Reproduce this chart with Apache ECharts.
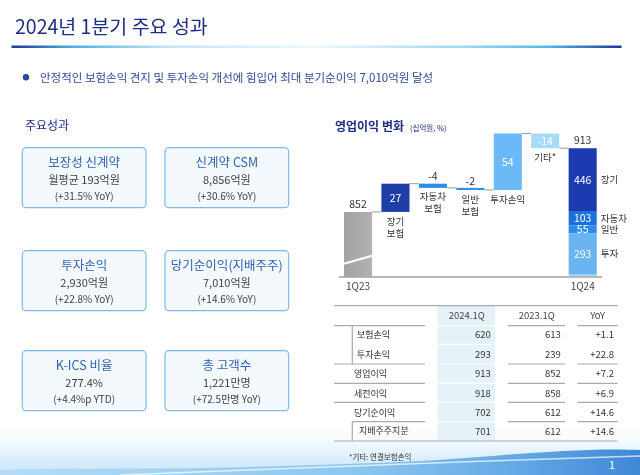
<!DOCTYPE html>
<html><head><meta charset="utf-8">
<script src="https://cdn.jsdelivr.net/npm/echarts/dist/echarts.min.js"></script>
<style>html,body{margin:0;padding:0;background:#fff}#c{width:640px;height:475px}</style>
</head><body><div id="c"></div>
<script>
// ---------- data ----------
const pageTitle = '2024년 1분기 주요 성과';
const headline = '안정적인 보험손익 견지 및 투자손익 개선에 힘입어 최대 분기순이익 7,010억원 달성';
const sectionTitle = '주요성과';
const kpiTitles = ['보장성 신계약', '신계약 CSM', '투자손익', '당기순이익(지배주주)', 'K-ICS 비율', '총 고객수'];
const kpiValues = ['월평균 193억원', '8,856억원', '2,930억원', '7,010억원', '277.4%', '1,221만명'];
const kpiChanges = ['(+31.5% YoY)', '(+30.6% YoY)', '(+22.8% YoY)', '(+14.6% YoY)', '(+4.4%p YTD)', '(+72.5만명 YoY)'];

const chartTitle = '영업이익 변화';
const chartUnit = '(십억원, %)';
const wfCategories = ['1Q23', '장기보험', '자동차보험', '일반보험', '투자손익', '기타*', '1Q24'];
const wfStepLabels = ['', '장기\n보험', '자동차\n보험', '일반\n보험', '투자손익', '기타*', ''];
const wfStart = 852;
const wfDeltas = [27, -4, -2, 54, -14];
const wfEnd = 913;
const endParts = [16, 293, 55, 103, 446];          // bottom -> top
const endPartNames = ['', '투자', '일반', '자동차', '장기'];

const tableHeader = ['2024.1Q', '2023.1Q', 'YoY'];
const tableRowNames = ['보험손익', '투자손익', '영업이익', '세전이익', '당기순이익', '지배주주지분'];
const tableRowIndent = [true, true, false, false, false, true];
const val2024 = ['620', '293', '913', '918', '702', '701'];
const val2023 = ['613', '239', '852', '858', '612', '612'];
const yoyValues = ['+1.1', '+22.8', '+7.2', '+6.9', '+14.6', '+14.6'];
const footnote = '*기타: 연결보험손익';
const pageNo = '1';

// ---------- styles ----------
const FONT = '"Noto Sans CJK KR", "Noto Sans", sans-serif';
const NAVY = '#1D2F82';
const deltaColors = ['#1F3DA6', '#2B8DEB', '#2B8DEB', '#6CB9F7', '#A7DAFB'];
const endColors = ['#9CCFF3', '#6AB5F0', '#2C8EEA', '#1C72DA', '#1C3BB0'];
const Y_MIN = 790, Y_MAX = 930;

// ---------- waterfall derived series ----------
const levels = [wfStart];
wfDeltas.forEach(d => levels.push(levels[levels.length - 1] + d));
const nCat = wfCategories.length;
const last = nCat - 1;
const startData = wfCategories.map((c, i) => i === 0 ? wfStart : '-');
const baseData = ['-'], deltaData = ['-'];
wfDeltas.forEach((d, i) => {
  const a = levels[i], b = levels[i + 1];
  baseData.push(Math.min(a, b));
  const small = Math.abs(d) < 10;
  deltaData.push({
    value: Math.abs(d),
    itemStyle: { color: deltaColors[i] },
    label: {
      show: true,
      position: small ? 'top' : 'inside',
      distance: 2,
      color: small ? '#333' : '#fff',
      formatter: () => String(d)
    }
  });
});
baseData.push('-'); deltaData.push('-');
const y2Max = wfEnd * (Y_MAX - Y_MIN) / (wfEnd - Y_MIN);

const series = [];
series.push({
  type: 'bar', name: 'start', stack: 'w', barWidth: '75%', barGap: '-100%',
  data: startData,
  itemStyle: { color: { type: 'linear', x: 0, y: 0, x2: 1, y2: 0, colorStops: [{ offset: 0, color: '#A3A3A3' }, { offset: 1, color: '#B2B2B2' }] } },
  z: 2,
  label: { show: true, position: 'top', distance: 3, color: '#333', fontSize: 10.5, fontFamily: FONT }
});
series.push({
  type: 'bar', name: 'base', stack: 'w', barWidth: '75%', barGap: '-100%',
  data: baseData, itemStyle: { color: 'rgba(0,0,0,0)' }, silent: true,
  label: {
    show: true, position: 'insideTop', distance: 3, color: '#333', fontSize: 9.5, lineHeight: 12, fontFamily: FONT,
    formatter: p => wfStepLabels[p.dataIndex]
  }
});
series.push({
  type: 'bar', name: 'delta', stack: 'w', barWidth: '75%', barGap: '-100%',
  data: deltaData, label: { fontSize: 10.5, fontFamily: FONT }
});
endParts.forEach((v, k) => {
  series.push({
    type: 'bar', name: 'end' + k, stack: 'end', yAxisIndex: 1, barWidth: '75%', barGap: '-100%',
    data: wfCategories.map((c, i) => i === last ? v : '-'),
    itemStyle: { color: endColors[k] },
    label: { show: v >= 30, position: 'inside', color: '#fff', fontSize: 10.5, fontFamily: FONT }
  });
});
endParts.forEach((v, k) => {
  series.push({
    type: 'bar', name: 'endName' + k, stack: 'endNames', yAxisIndex: 1, barWidth: '75%', barGap: '-100%',
    data: wfCategories.map((c, i) => i === last ? v : '-'),
    itemStyle: { color: 'rgba(0,0,0,0)' }, silent: true,
    label: { show: !!endPartNames[k], position: 'right', distance: 4, color: '#333', fontSize: 9.5, fontFamily: FONT,
      formatter: () => endPartNames[k] }
  });
});
// end total label
series.push({
  type: 'bar', name: 'endTotal', stack: 'endTotal', yAxisIndex: 1, barWidth: '75%', barGap: '-100%',
  data: wfCategories.map((c, i) => i === last ? wfEnd : '-'),
  itemStyle: { color: 'rgba(0,0,0,0)' }, silent: true,
  label: { show: true, position: 'top', distance: 3, color: '#333', fontSize: 10.5, fontFamily: FONT }
});
// connectors
series.push({
  type: 'custom', name: 'connectors', z: 1, silent: true,
  data: levels.map((v, i) => [i, v]),
  renderItem: (params, api) => {
    const i = api.value(0);
    const p = api.coord([i, api.value(1)]);
    const band = api.size([1, 0])[0];
    const bw = band * 0.75;
    return { type: 'line', shape: { x1: p[0] + bw / 2, y1: p[1], x2: p[0] + band - bw / 2, y2: p[1] },
      style: { stroke: '#9A9A9A', lineWidth: 1 } };
  }
});
// axis break mark on the first bar
series.push({
  type: 'custom', name: 'break', z: 5, silent: true,
  data: [[0, Y_MIN]],
  renderItem: (params, api) => {
    const p = api.coord([api.value(0), api.value(1)]);
    const band = api.size([1, 0])[0];
    const bw = band * 0.75;
    return { type: 'line', shape: { x1: p[0] - bw / 2, y1: p[1] - 13, x2: p[0] + bw / 2, y2: p[1] - 21 },
      style: { stroke: '#fff', lineWidth: 2 } };
  }
});

// ---------- graphics ----------
const g = [];
// bottom background waves
g.push({ type: 'rect', shape: { x: 0, y: 420, width: 640, height: 55 }, silent: true,
  style: { fill: { type: 'linear', x: 0, y: 0, x2: 0, y2: 1, colorStops: [
    { offset: 0, color: 'rgba(255,255,255,0)' }, { offset: 0.6, color: '#E3F2FB' }, { offset: 1, color: '#C6E4F7' }] } } });
g.push({ type: 'polygon', silent: true, shape: { points: [[0, 475], [0, 470], [200, 468], [400, 462], [640, 450], [640, 475]], smooth: 0.3 },
  style: { fill: { type: 'linear', x: 0, y: 0, x2: 1, y2: 0, colorStops: [
    { offset: 0, color: '#B5DCF5' }, { offset: 0.55, color: '#8DC7EF' }, { offset: 0.8, color: '#62A9E6' }, { offset: 1, color: '#3F86D6' }] } } });
g.push({ type: 'polyline', silent: true, shape: { points: [[120, 475], [300, 468], [460, 462], [640, 456]], smooth: 0.4 },
  style: { stroke: 'rgba(255,255,255,0.7)', lineWidth: 1.5, fill: null } });
g.push({ type: 'text', style: { x: 612, y: 465, text: pageNo, font: '11px ' + FONT, fill: '#fff', textAlign: 'center', textVerticalAlign: 'middle' } });

// header
g.push({ type: 'text', style: { x: 15, y: 27, text: pageTitle, font: '19.5px ' + FONT, fill: NAVY, textVerticalAlign: 'middle' } });
g.push({ type: 'rect', shape: { x: 11.5, y: 45.5, width: 610, height: 2.5 },
  style: { fill: { type: 'linear', x: 0, y: 0, x2: 1, y2: 0, colorStops: [
    { offset: 0, color: '#1B3A9A' }, { offset: 0.1, color: '#4FAEE2' }, { offset: 0.25, color: '#BFE5F6' },
    { offset: 0.5, color: '#EEF8FD' }, { offset: 0.75, color: '#9AD6F1' }, { offset: 0.88, color: '#55B6E6' },
    { offset: 1, color: '#1B3A9A' }] } } });
g.push({ type: 'circle', shape: { cx: 26, cy: 77.3, r: 3.2 }, style: { fill: '#2C4A98' } });
g.push({ type: 'text', style: { x: 40, y: 77.3, text: headline, font: '11.5px ' + FONT, fill: '#2C4A98', textVerticalAlign: 'middle' } });

// KPI boxes
g.push({ type: 'text', style: { x: 25, y: 125.5, text: sectionTitle, font: '12px ' + FONT, fill: NAVY, textVerticalAlign: 'middle' } });
const boxX = [22.3, 165], boxY = [147.7, 250.7, 350.7], boxW = 123.7, boxH = 60;
kpiTitles.forEach((t, i) => {
  const x = boxX[i % 2], y = boxY[Math.floor(i / 2)], cx = x + boxW / 2;
  g.push({ type: 'rect', shape: { x: x, y: y, width: boxW, height: boxH, r: 4 },
    style: { fill: '#F4F9FD', stroke: '#7DB9E3', lineWidth: 1.2 } });
  g.push({ type: 'text', style: { x: cx, y: y + 14.6, text: t, font: '12.5px ' + FONT, fill: '#2E63B0', textAlign: 'center', textVerticalAlign: 'middle' } });
  g.push({ type: 'text', style: { x: cx, y: y + 32.3, text: kpiValues[i], font: '11px ' + FONT, fill: '#404040', textAlign: 'center', textVerticalAlign: 'middle' } });
  g.push({ type: 'text', style: { x: cx, y: y + 48.5, text: kpiChanges[i], font: '10px ' + FONT, fill: '#404040', textAlign: 'center', textVerticalAlign: 'middle' } });
});

// chart title
g.push({ type: 'text', style: { x: 335, y: 126.7, text: chartTitle, font: 'bold 12px ' + FONT, fill: NAVY, textVerticalAlign: 'middle' } });
g.push({ type: 'text', style: { x: 410, y: 127.7, text: chartUnit, font: '7.5px ' + FONT, fill: NAVY, textVerticalAlign: 'middle' } });

// table
const T = { left: 334, right: 617.7, top: 305.7, bottom: 441, indentX: 352.3 };
const colSeg = [[T.left, 425], [437.3, 495], [507.7, 565], [577.3, T.right]];
const headerY = 315.7;
const rowY = [334.3, 354.3, 373.7, 393.3, 412.3, 431];
const sepY = [325.7, 344.3, 364, 383.3, 402.3, 421.7]; // separator above each row
const LINE = '#ABABAB';
g.push({ type: 'rect', shape: { x: colSeg[1][0], y: T.top, width: colSeg[1][1] - colSeg[1][0], height: T.bottom - T.top }, style: { fill: '#E5F3F9' } });
g.push({ type: 'line', shape: { x1: T.left, y1: T.top, x2: T.right, y2: T.top }, style: { stroke: LINE, lineWidth: 1.2 } });
g.push({ type: 'line', shape: { x1: T.left, y1: T.bottom, x2: T.right, y2: T.bottom }, style: { stroke: LINE, lineWidth: 1.2 } });
sepY.forEach((y, r) => {
  const innerSub = tableRowIndent[r] && r > 0 && tableRowIndent[r - 1];
  colSeg.forEach((s, c) => {
    if (c === 1) {
      g.push({ type: 'line', shape: { x1: s[0], y1: y, x2: s[1], y2: y }, style: { stroke: '#FFFFFF', lineWidth: 1.2 } });
      return;
    }
    if (innerSub) return;
    let x1 = s[0];
    if (c === 0 && tableRowIndent[r] && r > 0) x1 = T.indentX;
    g.push({ type: 'line', shape: { x1: x1, y1: y, x2: s[1], y2: y }, style: { stroke: LINE, lineWidth: 1.2 } });
  });
});
let r0 = null;
tableRowIndent.concat([false]).forEach((ind, r) => {
  if (ind && r0 === null) r0 = r;
  if (!ind && r0 !== null) {
    const yTop = sepY[r0], yBot = r < sepY.length ? sepY[r] : T.bottom;
    g.push({ type: 'line', shape: { x1: T.indentX, y1: yTop, x2: T.indentX, y2: yBot }, style: { stroke: LINE, lineWidth: 1.2 } });
    r0 = null;
  }
});
const headCx = [466.7, 536.7, 597.7];
tableHeader.forEach((h, i) => g.push({ type: 'text', style: { x: headCx[i], y: headerY, text: h, font: '9.5px ' + FONT, fill: '#444', textAlign: 'center', textVerticalAlign: 'middle' } }));
const numRight = [490.7, 560.7, 614];
tableRowNames.forEach((n, r) => {
  const y = rowY[r];
  g.push({ type: 'text', style: { x: tableRowIndent[r] ? (r === 5 ? 359 : 357) : 354, y: y, text: n, font: '9px ' + FONT, fill: '#333', textVerticalAlign: 'middle' } });
  [val2024[r], val2023[r], yoyValues[r]].forEach((v, c) => {
    g.push({ type: 'text', style: { x: numRight[c], y: y, text: v, font: '9.5px ' + FONT, fill: '#333', textAlign: 'right', textVerticalAlign: 'middle' } });
  });
});
g.push({ type: 'text', style: { x: 349, y: 456.7, text: footnote, font: '7.5px ' + FONT, fill: '#333', textVerticalAlign: 'middle' } });

// ---------- chart ----------
const chart = echarts.init(document.getElementById('c'), null, { renderer: 'canvas' });
chart.setOption({
  animation: false,
  backgroundColor: '#fff',
  textStyle: { fontFamily: FONT },
  grid: { left: 339.3, right: 38.6, top: 130.4, bottom: 198.3, containLabel: false },
  xAxis: {
    type: 'category', data: wfCategories,
    axisTick: { show: false },
    axisLine: { lineStyle: { color: '#A0A0A0', width: 1.5 } },
    axisLabel: { interval: 0, margin: 5, color: '#444', fontSize: 10, fontFamily: FONT,
      formatter: (v, i) => (i === 0 || i === last) ? v : '' }
  },
  yAxis: [
    { type: 'value', min: Y_MIN, max: Y_MAX, show: false, splitLine: { show: false } },
    { type: 'value', min: 0, max: y2Max, show: false, splitLine: { show: false } }
  ],
  graphic: { elements: g },
  series: series
});
</script>
</body></html>
